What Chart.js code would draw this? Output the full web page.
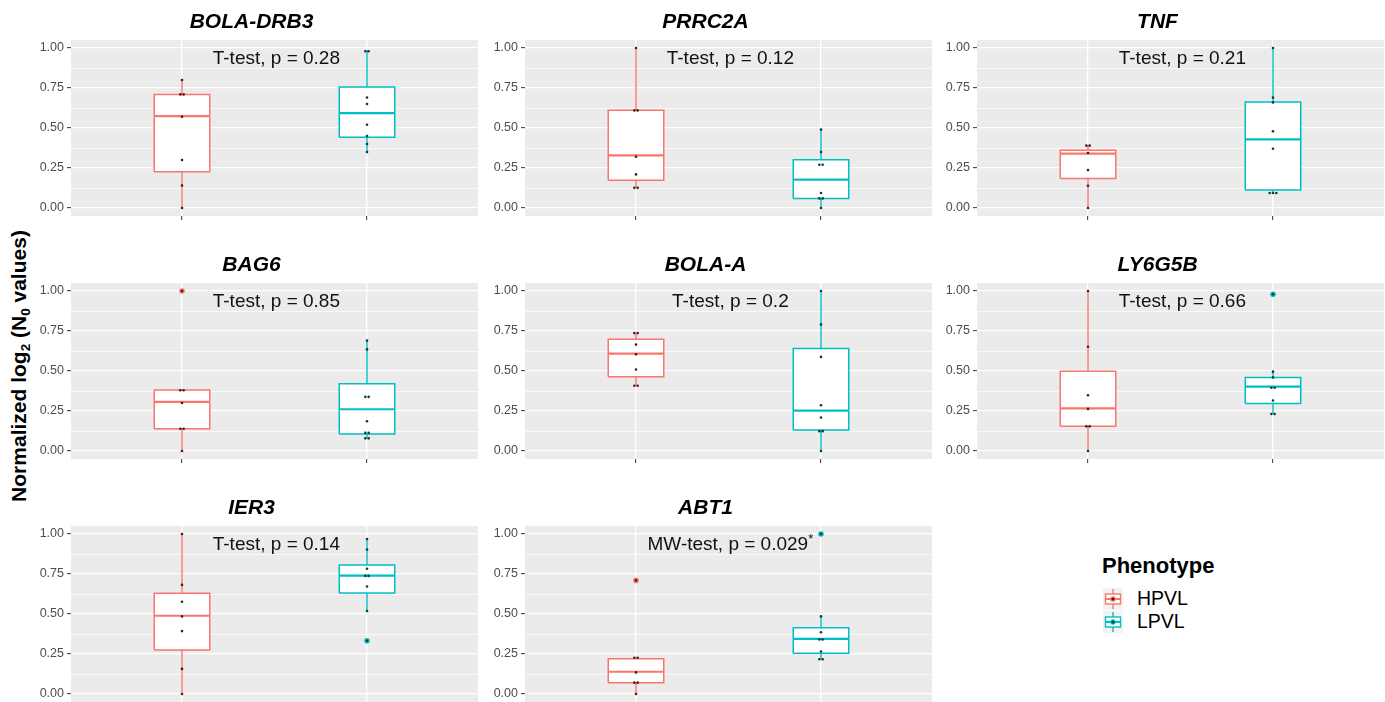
<!DOCTYPE html>
<html>
<head>
<meta charset="utf-8">
<script src="https://cdn.jsdelivr.net/npm/chart.js@4.4.0/dist/chart.umd.min.js"></script>
<style>
body{margin:0;width:1385px;height:702px;overflow:hidden;background:#fff;position:relative;font-family:"Liberation Sans",Arial,sans-serif}
canvas{position:absolute}
#ylab{position:absolute;left:20px;top:366px;transform:translate(-50%,-50%) rotate(-90deg);white-space:nowrap;font-weight:bold;font-size:21px;color:#000}
#ylab sub{font-size:13.5px;vertical-align:-4px}
#legend{position:absolute;left:1102px;top:552px;color:#000}
#legend .ttl{font-weight:bold;font-size:22px;line-height:28px;margin-bottom:7px}
#legend .item{display:flex;align-items:center;height:23px}
#legend svg{margin-right:14px;margin-left:1px}
#legend span{font-size:19.5px}
</style>
</head>
<body>
<div id="ylab">Normalized log<sub>2</sub> (N<sub>0</sub> values)</div>
<div id="legend">
  <div class="ttl">Phenotype</div>
  <div class="item"><svg width="20" height="22" id="keyH"></svg><span>HPVL</span></div>
  <div class="item"><svg width="20" height="22" id="keyL"></svg><span>LPVL</span></div>
</div>
<script>
const genes = ['BOLA-DRB3', 'PRRC2A', 'TNF', 'BAG6', 'BOLA-A', 'LY6G5B', 'IER3', 'ABT1']
const testLabels = ['T-test, p = 0.28', 'T-test, p = 0.12', 'T-test, p = 0.21', 'T-test, p = 0.85',
    'T-test, p = 0.2', 'T-test, p = 0.66', 'T-test, p = 0.14', 'MW-test, p = 0.029*']
const phenotypes = ['HPVL', 'LPVL']
const phenoColors = ['#F8766D', '#00BFC4']
const dotColors = ['#4a1c18', '#113c3e']
const yTicks = [0, 0.25, 0.5, 0.75, 1]

// box stats per gene: [lower whisker, q1, median, q3, upper whisker]
const hpvlBox = [
    [0, 0.226, 0.574, 0.71, 0.80],
    [0.126, 0.173, 0.329, 0.611, 1.00],
    [0, 0.184, 0.34, 0.361, 0.393],
    [0, 0.139, 0.307, 0.382, 0.382],
    [0.408, 0.464, 0.609, 0.699, 0.737],
    [0, 0.154, 0.267, 0.498, 1.00],
    [0, 0.275, 0.489, 0.629, 1.00],
    [0, 0.071, 0.139, 0.221, 0.227]
]
const lpvlBox = [
    [0.348, 0.442, 0.593, 0.757, 0.987],
    [0, 0.06, 0.177, 0.301, 0.489],
    [0.094, 0.113, 0.429, 0.662, 1.00],
    [0.079, 0.107, 0.261, 0.421, 0.688],
    [0, 0.132, 0.252, 0.641, 1.00],
    [0.231, 0.297, 0.402, 0.459, 0.496],
    [0.519, 0.631, 0.740, 0.807, 0.968],
    [0.217, 0.255, 0.345, 0.414, 0.485]
]
// individual samples
const hpvlPoints = [
    [0.80, 0.71, 0.71, 0.57, 0.30, 0.14, 0.00],
    [1.00, 0.61, 0.61, 0.32, 0.21, 0.126, 0.126],
    [0.39, 0.39, 0.344, 0.237, 0.139, 0.00],
    [1.00, 0.38, 0.38, 0.30, 0.139, 0.139, 0.00],
    [0.737, 0.737, 0.665, 0.605, 0.509, 0.408, 0.408],
    [1.00, 0.652, 0.348, 0.263, 0.154, 0.154, 0.00],
    [1.00, 0.682, 0.577, 0.485, 0.393, 0.157, 0.00],
    [0.71, 0.227, 0.227, 0.135, 0.071, 0.071, 0.00]
]
const lpvlPoints = [
    [0.98, 0.98, 0.69, 0.65, 0.52, 0.45, 0.40, 0.35],
    [0.49, 0.35, 0.27, 0.27, 0.094, 0.06, 0.06, 0.00],
    [1.00, 0.69, 0.66, 0.48, 0.37, 0.094, 0.094, 0.094],
    [0.69, 0.635, 0.338, 0.338, 0.186, 0.113, 0.113, 0.079, 0.079],
    [1.00, 0.79, 0.588, 0.286, 0.209, 0.124, 0.124, 0.00],
    [0.979, 0.496, 0.46, 0.395, 0.395, 0.316, 0.231, 0.231],
    [0.968, 0.903, 0.783, 0.738, 0.738, 0.672, 0.519, 0.333],
    [1.00, 0.485, 0.386, 0.341, 0.341, 0.266, 0.217, 0.217]
]
const hpvlOutliers = [[], [], [], [1.00], [], [], [], [0.71]]
const lpvlOutliers = [[], [], [], [], [], [0.979], [0.333], [1.00]]

const colLeft = [71, 525, 977]
const rowTop = [40, 283, 526]
const panelW = 411
const panelH = 176
const axisW = 50
const titleH = 40
const xAxisH = 14
const boxHalf = 0.15

const fontFamily = '"Liberation Sans", Arial, sans-serif'

// grey panel background and the test annotation
const panelDeco = {
    id: 'panelDeco',
    beforeDraw(chart) {
        const {ctx, chartArea: a} = chart
        ctx.save()
        ctx.fillStyle = '#EBEBEB'
        ctx.fillRect(a.left, a.top, a.right - a.left, a.bottom - a.top)
        ctx.restore()
    },
    afterDraw(chart, args, opts) {
        const {ctx, scales} = chart
        let text = opts.text
        let star = false
        if (text.endsWith('*')) { star = true; text = text.slice(0, -1) }
        const px = scales.x.getPixelForValue(1.51)
        const py = scales.y.getPixelForValue(0.935)
        ctx.save()
        ctx.fillStyle = '#111'
        ctx.textBaseline = 'middle'
        ctx.font = '19px ' + fontFamily
        const w = ctx.measureText(text).width
        ctx.font = '13px ' + fontFamily
        const sw = star ? ctx.measureText('*').width : 0
        const start = px - (w + sw) / 2
        ctx.font = '19px ' + fontFamily
        ctx.textAlign = 'left'
        ctx.fillText(text, start, py)
        if (star) {
            ctx.font = '13px ' + fontFamily
            ctx.fillText('*', start + w, py - 5)
        }
        ctx.restore()
    }
}

function jitter(vals, pos) {
    const seen = {}
    return vals.map(v => {
        const n = vals.filter(w => w === v).length
        seen[v] = (seen[v] === undefined ? -1 : seen[v]) + 1
        return {x: pos + (seen[v] - (n - 1) / 2) * 0.018, y: v}
    })
}

function groupDatasets(stats, pts, outs, g) {
    const pos = g + 1
    const col = phenoColors[g]
    const [lo, q1, med, q3, hi] = stats
    const line = {showLine: true, pointRadius: 0, borderColor: col, fill: false}
    return [
        {...line, order: 5, borderWidth: 1.4, data: [{x: pos, y: lo}, {x: pos, y: q1}]},
        {...line, order: 5, borderWidth: 1.4, data: [{x: pos, y: q3}, {x: pos, y: hi}]},
        {...line, order: 4, borderWidth: 1.5, backgroundColor: '#fff', fill: 'shape',
            data: [{x: pos - boxHalf, y: q1}, {x: pos + boxHalf, y: q1}, {x: pos + boxHalf, y: q3},
                {x: pos - boxHalf, y: q3}, {x: pos - boxHalf, y: q1}]},
        {...line, order: 3, borderWidth: 2.2, data: [{x: pos - boxHalf, y: med}, {x: pos + boxHalf, y: med}]},
        {order: 2, showLine: false, pointRadius: 2.8, pointBorderWidth: 0,
            pointBackgroundColor: col, data: outs.map(v => ({x: pos, y: v}))},
        {order: 1, showLine: false, pointRadius: 1.3, pointBorderWidth: 0,
            pointBackgroundColor: dotColors[g], data: jitter(pts, pos)}
    ]
}

const yAll = []
yTicks.forEach((v, i) => {
    yAll.push(v)
    if (i < yTicks.length - 1) yAll.push((v + yTicks[i + 1]) / 2)
})

genes.forEach((gene, i) => {
    const col = i % 3
    const row = Math.floor(i / 3)
    const cv = document.createElement('canvas')
    const w = axisW + panelW
    const h = titleH + panelH + xAxisH
    cv.width = w
    cv.height = h
    cv.style.left = (colLeft[col] - axisW) + 'px'
    cv.style.top = (rowTop[row] - titleH) + 'px'
    cv.style.width = w + 'px'
    cv.style.height = h + 'px'
    document.body.appendChild(cv)

    new Chart(cv, {
        type: 'scatter',
        data: {
            datasets: [
                ...groupDatasets(hpvlBox[i], hpvlPoints[i], hpvlOutliers[i], 0),
                ...groupDatasets(lpvlBox[i], lpvlPoints[i], lpvlOutliers[i], 1)
            ]
        },
        plugins: [panelDeco],
        options: {
            responsive: false,
            animation: false,
            devicePixelRatio: 1,
            layout: {padding: 0},
            plugins: {
                legend: {display: false},
                tooltip: {enabled: false},
                title: {
                    display: true,
                    text: gene,
                    color: '#000',
                    font: {family: fontFamily, size: 21, weight: 'bold', style: 'italic', lineHeight: 1.2},
                    padding: {top: 9.4, bottom: 5.4}
                },
                panelDeco: {text: testLabels[i]}
            },
            scales: {
                x: {
                    type: 'linear',
                    min: 0.4,
                    max: 2.6,
                    afterBuildTicks: s => { s.ticks = [{value: 1}, {value: 2}] },
                    afterFit: s => { s.height = xAxisH; s.paddingLeft = 0; s.paddingRight = 0 },
                    ticks: {callback: () => '', autoSkip: false},
                    grid: {color: '#fff', lineWidth: 1.3, tickColor: '#333', tickLength: 4, tickWidth: 1},
                    border: {display: false}
                },
                y: {
                    type: 'linear',
                    min: -0.05,
                    max: 1.05,
                    afterBuildTicks: s => { s.ticks = yAll.map(v => ({value: v})) },
                    afterFit: s => { s.width = axisW },
                    ticks: {
                        autoSkip: false,
                        padding: 3,
                        color: '#4D4D4D',
                        font: {family: fontFamily, size: 12.5},
                        callback: v => yTicks.includes(v) ? v.toFixed(2) : ''
                    },
                    grid: {
                        color: '#fff',
                        lineWidth: c => yTicks.includes(c.tick.value) ? 1.3 : 0.7,
                        tickColor: c => yTicks.includes(c.tick.value) ? '#333' : 'rgba(0,0,0,0)',
                        tickLength: 4,
                        tickWidth: 1
                    },
                    border: {display: false}
                }
            }
        }
    })
})

// legend key glyphs
function drawKey(id, g) {
    const col = phenoColors[g]
    document.getElementById(id).innerHTML =
        '<rect x="0" y="0" width="20" height="22" fill="#F2F2F2"/>' +
        '<line x1="10" y1="1" x2="10" y2="21" stroke="' + col + '" stroke-width="1.4"/>' +
        '<rect x="2.5" y="6" width="15" height="10" fill="#fff" stroke="' + col + '" stroke-width="1.4"/>' +
        '<line x1="2.5" y1="11" x2="17.5" y2="11" stroke="' + col + '" stroke-width="2"/>' +
        '<circle cx="10" cy="11" r="2.8" fill="' + col + '"/>' +
        '<circle cx="10" cy="11" r="1.6" fill="' + dotColors[g] + '"/>'
}
drawKey('keyH', 0)
drawKey('keyL', 1)
</script>
</body>
</html>
